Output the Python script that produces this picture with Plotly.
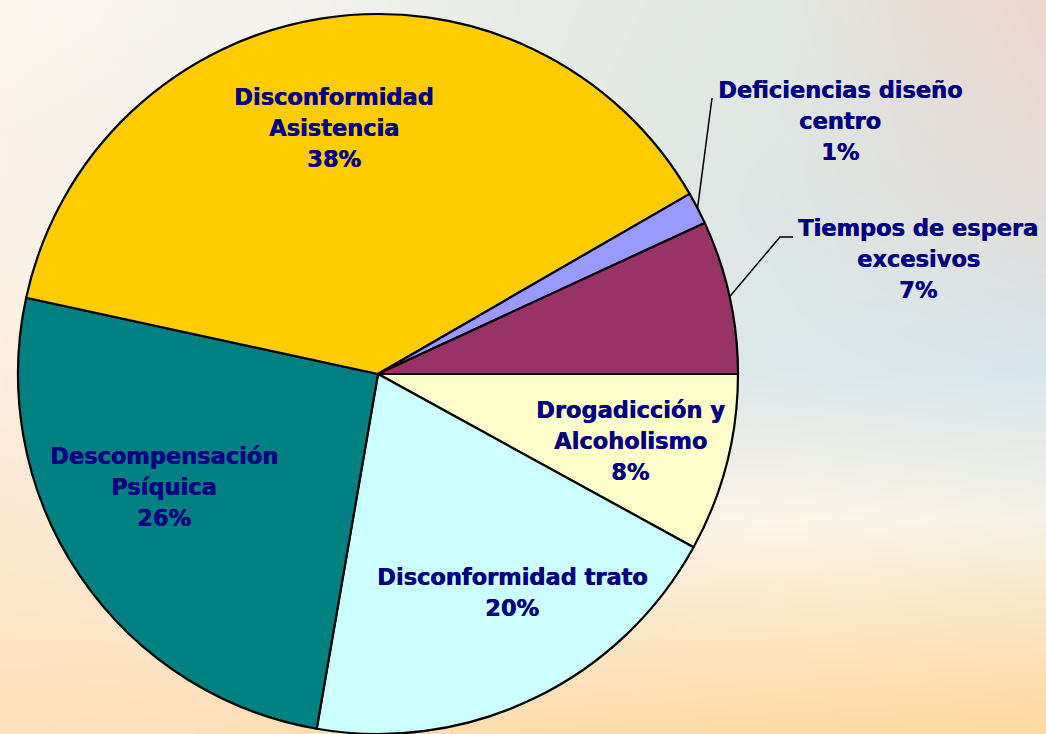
import base64
import math
import struct
import zlib

import numpy as np
import plotly.graph_objects as go

# ---------------- data ----------------
labels = [
    "Drogadicción y Alcoholismo",
    "Disconformidad trato",
    "Descompensación Psíquica",
    "Disconformidad Asistencia",
    "Deficiencias diseño centro",
    "Tiempos de espera excesivos",
]
values = [8.0, 19.75, 25.7, 38.3, 1.45, 6.9]
label_lines = [
    ["Drogadicción y", "Alcoholismo"],
    ["Disconformidad trato"],
    ["Descompensación", "Psíquica"],
    ["Disconformidad", "Asistencia"],
    ["Deficiencias diseño", "centro"],
    ["Tiempos de espera", "excesivos"],
]
slice_colors = ["#FFFFCC", "#CCFFFF", "#008080", "#FFCC00", "#9999FF", "#993366"]

# ---------------- layout constants ----------------
W, H = 1046, 734
TOP = 14
R = 360
CX, CY = 378, TOP + R
TEXT_COLOR = "#000080"
FONT = "DejaVu Sans, Verdana, sans-serif"
FS = 22.5
LINE_SP = 31
# text block centres (pixels) for each slice label
label_pos = [(630, 441), (512, 592), (164, 487), (334, 128), (840, 121), (918, 259)]
outside = [False, False, False, False, True, True]
leader_end = {4: [(712, 98)], 5: [(780, 237), (793, 237)]}


def px_to_paper(x, y):
    return x / W, 1 - y / H


# ---------------- background gradient image ----------------
def hex_rgb(h):
    h = h.lstrip("#")
    return [int(h[i:i + 2], 16) for i in (0, 2, 4)]


bg_x = [0, 260, 520, 780, 1046]
bg_y = [0, 180, 370, 520, 734]
bg_grid = [
    ["#FDF7F0", "#F6F3EE", "#E8ECE8", "#E2E8E2", "#EDD5CE"],
    ["#FCF3EA", "#F2F1EC", "#E6EBE6", "#DEE6E4", "#E4DCD8"],
    ["#FCEEDF", "#F2EEE6", "#E6ECE8", "#DDE8EA", "#D8E6EC"],
    ["#FDE9D2", "#FBEEDD", "#F8F2E8", "#FDF5E8", "#F6F2E6"],
    ["#FFE2BE", "#FDDFB6", "#FDDDAE", "#FDDBA6", "#FDD9A0"],
]
grid = np.array([[hex_rgb(c) for c in row] for row in bg_grid], dtype=float)
iw, ih = 262, 184
xs = np.linspace(0, W, iw)
ys = np.linspace(0, H, ih)
rows = np.stack([
    np.stack([np.interp(xs, bg_x, grid[r, :, c]) for c in range(3)], axis=-1)
    for r in range(len(bg_y))
])  # (ny, iw, 3)
img = np.empty((ih, iw, 3))
for c in range(3):
    for j in range(iw):
        img[:, j, c] = np.interp(ys, bg_y, rows[:, j, c])
img = np.clip(img, 0, 255).astype(np.uint8)


def png_uri(a):
    h, w, _ = a.shape
    raw = b"".join(b"\x00" + a[i].tobytes() for i in range(h))

    def chunk(tag, data):
        return struct.pack(">I", len(data)) + tag + data + struct.pack(">I", zlib.crc32(tag + data) & 0xFFFFFFFF)

    png = b"\x89PNG\r\n\x1a\n" + chunk(b"IHDR", struct.pack(">IIBBBBB", w, h, 8, 2, 0, 0, 0)) \
        + chunk(b"IDAT", zlib.compress(raw, 9)) + chunk(b"IEND", b"")
    return "data:image/png;base64," + base64.b64encode(png).decode()


# ---------------- figure ----------------
fig = go.Figure(go.Pie(
    labels=labels,
    values=values,
    sort=False,
    direction="clockwise",
    rotation=90,
    textinfo="none",
    marker=dict(colors=slice_colors, line=dict(color="black", width=2.2)),
    domain=dict(x=[(CX - R) / W, (CX + R) / W], y=[0, 1 - TOP / H]),
    showlegend=False,
    hoverinfo="label+percent",
))

total = sum(values)
annotations = []
shapes = []
cum = 0.0
for i, v in enumerate(values):
    mid = (cum + v / 2) / total * 2 * math.pi
    cum += v
    pct = round(v / total * 100)
    lines = label_lines[i] + [f"{pct}%"]
    lx, ly = label_pos[i]
    n = len(lines)
    for k, t in enumerate(lines):
        yy = ly + (k - (n - 1) / 2) * LINE_SP
        xp, yp = px_to_paper(lx, yy)
        annotations.append(dict(
            x=xp, y=yp, xref="paper", yref="paper", text=f"<b>{t}</b>",
            showarrow=False, xanchor="center", yanchor="middle",
            font=dict(family=FONT, size=FS, color=TEXT_COLOR,
                      shadow="0.6px 0px 0px #000080"),
        ))
    if outside[i]:
        ex = CX + R * math.cos(mid)
        ey = CY + R * math.sin(mid)
        pts = [(ex, ey)] + leader_end[i]
        path = "M " + " L ".join(
            f"{px_to_paper(a, b)[0]:.5f},{px_to_paper(a, b)[1]:.5f}" for a, b in pts)
        shapes.append(dict(type="path", path=path, xref="paper", yref="paper",
                           line=dict(color="black", width=1.5)))

fig.update_layout(
    width=W, height=H,
    margin=dict(l=0, r=0, t=0, b=0),
    paper_bgcolor="#F6F0E6",
    plot_bgcolor="rgba(0,0,0,0)",
    annotations=annotations,
    shapes=shapes,
    images=[dict(source=png_uri(img), xref="paper", yref="paper", x=0, y=1,
                 sizex=1, sizey=1, sizing="stretch", xanchor="left", yanchor="top",
                 layer="below")],
)

fig.write_html("out.html", config={"displayModeBar": False},
               post_script="document.body.style.margin='0';")
